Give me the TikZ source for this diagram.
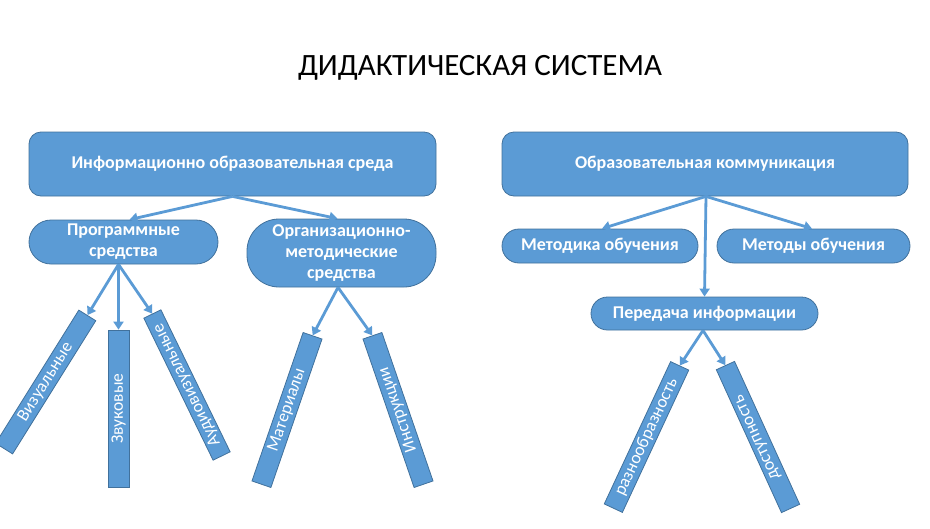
\documentclass[tikz,border=0pt]{standalone}
\usepackage{fontspec}
\setmainfont{Carlito}
\usetikzlibrary{arrows.meta}
\definecolor{ofill}{HTML}{5B9BD5}
\definecolor{oline}{HTML}{41719C}
\begin{document}
\begin{tikzpicture}[x=1pt,y=-1pt,
  box/.style={draw=oline,line width=0.8pt,fill=ofill,text=white,font=\fontsize{18}{21}\selectfont\bfseries,align=center,inner sep=0pt},
  bar/.style={draw=oline,line width=0.8pt,fill=ofill,text=white,font=\fontsize{17.5}{21}\selectfont,inner sep=0pt,minimum height=20,minimum width=157},
  arr/.style={draw=ofill,line width=2.8pt,-{Triangle[length=8pt,width=10pt]}}]
\useasboundingbox (0,0) rectangle (930,528);
\node[font=\fontsize{31}{37}\selectfont] (title) at (480,68) {ДИДАКТИЧЕСКАЯ СИСТЕМА};
% left
\node[box,minimum width=407,minimum height=64,rounded corners=12] (iod) at (232.5,164) {Информационно образовательная среда};
\node[box,minimum width=189,minimum height=44,rounded corners=22] (prog) at (123.5,242) {Программные\\средства};
\node[box,minimum width=189,minimum height=68,rounded corners=32] (org) at (341.5,253) {Организационно-\\методические\\средства};
\node[bar,rotate=58] (vis) at (45.7,382) {Визуальные};
\node[bar,rotate=90,minimum width=157,minimum height=21] (zv) at (118.5,408.5) {Звуковые};
\node[bar,rotate=116,minimum width=158,minimum height=19] (aud) at (187,385) {Аудиовизуальные};
\node[bar,rotate=71] (mat) at (287,410) {Материалы};
\node[bar,rotate=109] (ins) at (398,410) {Инструкции};
% right
\node[box,minimum width=406,minimum height=64,rounded corners=12] (oc) at (705,164) {Образовательная коммуникация};
\node[box,minimum width=196,minimum height=34,rounded corners=17] (met) at (600,246) {Методика обучения};
\node[box,minimum width=193,minimum height=34,rounded corners=17] (mo) at (813.5,246) {Методы обучения};
\node[box,minimum width=227,minimum height=33,rounded corners=16.5] (pi) at (704.5,313.5) {Передача информации};
\node[bar,rotate=65] (raz) at (646.5,437) {разнообразность};
\node[bar,rotate=114.5] (dos) at (758,437) {доступность};
% connectors
\coordinate (ps) at ([xshift=-5pt]prog.south);
\coordinate (os) at ([xshift=-3.5pt]org.south);
\coordinate (ocs) at ([xshift=1pt]oc.south);
\coordinate (pis) at ([xshift=-1.5pt]pi.south);
\draw[arr] (iod.south) -- ([xshift=6pt]prog.north);
\draw[arr] (iod.south) -- ([xshift=-4pt]org.north);
\draw[arr] (ps) -- (vis.east);
\draw[arr] (ps) -- (zv.east);
\draw[arr] (ps) -- (aud.east);
\draw[arr] (os) -- (mat.east);
\draw[arr] (os) -- (ins.east);
\draw[arr] (ocs) -- ([xshift=2pt]met.north);
\draw[arr] (ocs) -- ([xshift=-1.5pt]mo.north);
\draw[arr] (ocs) -- (pi.north);
\draw[arr] (pis) -- (raz.east);
\draw[arr] (pis) -- (dos.east);
\end{tikzpicture}
\end{document}
